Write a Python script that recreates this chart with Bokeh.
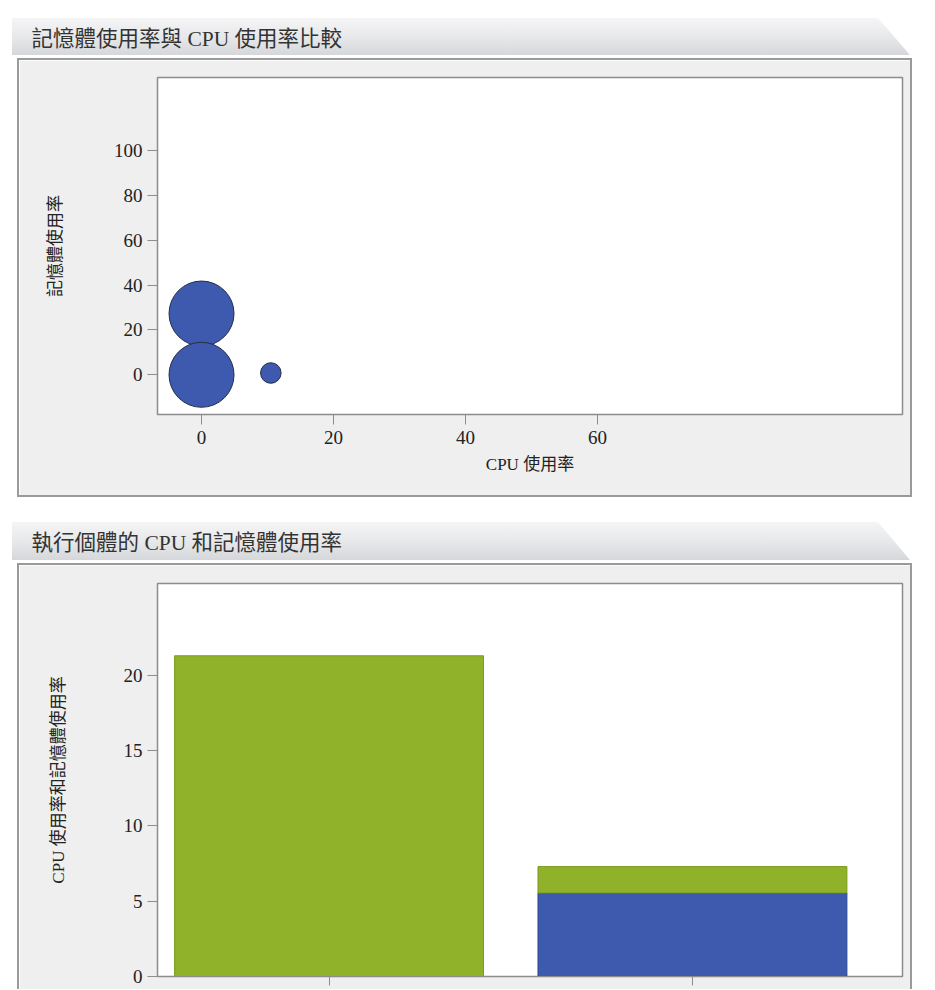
import numpy as np
from bokeh.plotting import figure
from bokeh.models import Range1d, FixedTicker, Title, ColumnDataSource
from bokeh.layouts import column
from bokeh.embed import file_html
from bokeh.resources import INLINE

# ---------------- data ----------------
title_top = "記憶體使用率與 CPU 使用率比較"
title_bottom = "執行個體的 CPU 和記憶體使用率"

scatter_cpu = [0, 0, 10.5]          # CPU 使用率
scatter_mem = [27.3, 0, 0.8]        # 記憶體使用率
scatter_weight = [100, 100, 10]     # bubble weight

instances = ["執行個體 1", "執行個體 2"]
cpu_usage = [0, 5.55]
mem_usage = [21.3, 1.75]

top_xticks = [0, 20, 40, 60]
top_yticks = [0, 20, 40, 60, 80, 100]
bottom_yticks = [0, 5, 10, 15, 20]

# ---------------- styles ----------------
FONT = "'Liberation Serif', 'Noto Sans CJK TC', serif"
BLUE = "#3d5aae"
BLUE_LINE = "#2c4593"
GREEN = "#90b22a"
GREEN_LINE = "#7a9d1c"
AXIS_GRAY = "#8c8c8c"
PANEL_BG = "#efefef"
HEADER_CSS = {
    "background": "linear-gradient(to bottom, #f5f5f6 0%, #e6e7e9 55%, #d6d7da 100%)",
    "clip-path": "polygon(0 0, 866px 0, 100% 100%, 0 100%)",
}
PANEL1_CSS = {"border": "2px solid #9a9a9a"}
PANEL2_CSS = {"border-top": "2px solid #9a9a9a", "border-left": "2px solid #9a9a9a",
              "border-right": "2px solid #9a9a9a"}


def header(text, top_margin, h):
    hf = figure(width=898, height=h, toolbar_location=None, output_backend="svg",
                x_axis_location=None, y_axis_location=None, title=None,
                min_border=0, margin=(top_margin, 0, 0, 12), styles=HEADER_CSS)
    hf.border_fill_alpha = 0
    hf.background_fill_alpha = 0
    hf.outline_line_color = None
    hf.xgrid.grid_line_color = None
    hf.ygrid.grid_line_color = None
    hf.title = Title(text=text, align="left", offset=-119, standoff=0,
                     text_font=FONT, text_font_size="21.5px", text_font_style="normal",
                     text_color="#333333")
    hf.min_border_top = 32
    return hf


def style_axes(p):
    for ax in p.axis:
        ax.axis_line_color = AXIS_GRAY
        ax.axis_line_width = 1
        ax.major_tick_line_color = AXIS_GRAY
        ax.major_tick_out = 10
        ax.major_tick_in = 0
        ax.minor_tick_line_color = None
        ax.major_label_text_font = FONT
        ax.major_label_text_font_size = "19px"
        ax.major_label_text_color = "#222222"
        ax.axis_label_text_font = FONT
        ax.axis_label_text_font_size = "17px"
        ax.axis_label_text_font_style = "normal"
        ax.axis_label_text_color = "#222222"
    p.xgrid.grid_line_color = None
    p.ygrid.grid_line_color = None
    p.background_fill_color = "white"
    p.border_fill_color = PANEL_BG
    p.outline_line_color = AXIS_GRAY
    p.outline_line_width = 1.5


# ---------------- top panel: bubble chart ----------------
h1 = header(title_top, 18, 37)

src1 = ColumnDataSource(dict(
    cpu=scatter_cpu, mem=scatter_mem,
    size=[6.5 * np.sqrt(w) for w in scatter_weight],
))
p1 = figure(width=895, height=439, x_range=Range1d(-6.67, 106.2), y_range=Range1d(-17.7, 132.5),
            toolbar_location=None, output_backend="svg", title=None,
            min_border_left=138, min_border_right=12, min_border_top=17, min_border_bottom=85,
            margin=(3, 0, 0, 17), styles=PANEL1_CSS)
p1.scatter("cpu", "mem", size="size", source=src1, fill_color=BLUE,
           line_color="#262c48", line_width=1)
style_axes(p1)
p1.xaxis.ticker = FixedTicker(ticks=top_xticks)
p1.yaxis.ticker = FixedTicker(ticks=top_yticks)
p1.xaxis.axis_label = "CPU 使用率"
p1.yaxis.axis_label = "記憶體使用率"
p1.xaxis.major_label_standoff = 6
p1.yaxis.major_label_standoff = 5
p1.xaxis.axis_label_standoff = 8
p1.yaxis.axis_label_standoff = 46

# ---------------- bottom panel: stacked bars ----------------
h2 = header(title_bottom, 25, 38)

idx = list(range(len(instances)))
src2 = ColumnDataSource(dict(idx=idx, cpu=cpu_usage, mem=mem_usage))
p2 = figure(width=895, height=426, x_range=Range1d(-0.472, 1.578), y_range=Range1d(0, 26.1),
            toolbar_location=None, output_backend="svg", title=None,
            min_border_left=138, min_border_right=12, min_border_top=18, min_border_bottom=15,
            margin=(3, 0, 0, 17), styles=PANEL2_CSS)
p2.vbar_stack(["cpu", "mem"], x="idx", width=0.85, source=src2,
              fill_color=[BLUE, GREEN], line_color=[BLUE_LINE, GREEN_LINE], line_width=1)
style_axes(p2)
p2.yaxis.ticker = FixedTicker(ticks=bottom_yticks)
p2.xaxis.ticker = FixedTicker(ticks=idx)
p2.xaxis.major_label_overrides = {i: name for i, name in zip(idx, instances)}
p2.xaxis.major_label_text_color = None   # labels lie below the visible window
p2.xaxis.major_label_standoff = 0
p2.xaxis.major_tick_out = 9
p2.yaxis.axis_label = "CPU 使用率和記憶體使用率"
p2.yaxis.major_label_standoff = 5
p2.yaxis.axis_label_standoff = 53

layout = column(h1, p1, h2, p2, spacing=0)

open("out.html", "w").write(file_html(layout, INLINE))
